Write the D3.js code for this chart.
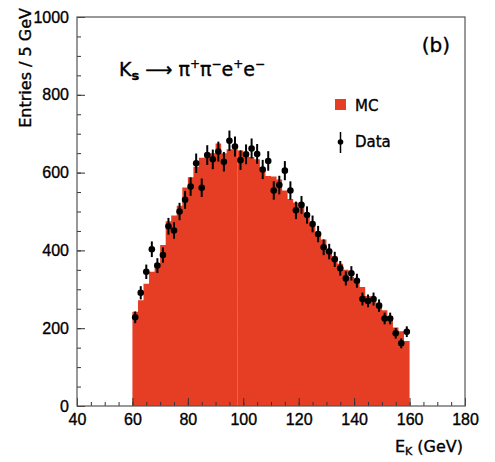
<!DOCTYPE html>
<html>
<head>
<meta charset="utf-8">
<script src="https://cdn.jsdelivr.net/npm/d3@7"></script>
<style>
  body { margin: 0; background: #fff; }
  svg { display: block; font-family: "DejaVu Sans", sans-serif; }
  svg text { stroke: #000; stroke-width: 0.35px; }
  .axis text { font-size: 16px; fill: #000; }
  .axis line { stroke: #333; }
  .axis path { display: none; }
</style>
</head>
<body>
<svg id="chart" width="495" height="462"></svg>
<script>
// bin centres (2 GeV bins, 60-160 GeV)
var binCenters = [61, 63, 65, 67, 69, 71, 73, 75, 77, 79,
                  81, 83, 85, 87, 89, 91, 93, 95, 97, 99,
                  101, 103, 105, 107, 109, 111, 113, 115, 117, 119,
                  121, 123, 125, 127, 129, 131, 133, 135, 137, 139,
                  141, 143, 145, 147, 149, 151, 153, 155, 157, 159];
var mcCounts = [242, 272, 314, 345, 367, 414, 475, 490, 515, 562,
                588, 615, 638, 641, 650, 675, 650, 660, 660, 657,
                645, 640, 634, 613, 591, 590, 582, 554, 532, 523,
                512, 485, 466, 448, 428, 404, 385, 366, 350, 332,
                318, 306, 283, 272, 263, 246, 230, 202, 192, 167];
var dataCounts = [228, 291, 345, 403, 361, 388, 462, 451, 500, 530,
                  564, 624, 561, 645, 634, 654, 628, 682, 667, 632,
                  647, 662, 648, 608, 630, 554, 568, 605, 554, 503,
                  517, 491, 468, 442, 408, 397, 377, 354, 328, 341,
                  322, 275, 270, 275, 258, 225, 225, 187, 161, 191];
var binWidth = 2;
var xTicks = [40, 60, 80, 100, 120, 140, 160, 180];
var yTicks = [0, 200, 400, 600, 800, 1000];

var svg = d3.select("#chart"),
    margin = {top: 17, right: 30, bottom: 56, left: 77},
    width = +svg.attr("width") - margin.left - margin.right,
    height = +svg.attr("height") - margin.top - margin.bottom;

var x = d3.scaleLinear().domain([40, 180]).range([0, width]),
    y = d3.scaleLinear().domain([0, 1000]).range([height, 0]);

var g = svg.append("g")
    .attr("transform", "translate(" + margin.left + "," + margin.top + ")");

var mc = binCenters.map(function(c, i) { return {c: c, v: mcCounts[i]}; });

// step outline for a run of bins
function steps(bins) {
  var pts = [];
  bins.forEach(function(d) {
    pts.push([d.c - binWidth / 2, d.v]);
    pts.push([d.c + binWidth / 2, d.v]);
  });
  return pts;
}
var area = d3.area()
    .x(function(d) { return x(d[0]); })
    .y0(y(0))
    .y1(function(d) { return y(d[1]); });

// MC histogram drawn in two pieces (seam at 98 GeV as in the original)
[mc.filter(function(d) { return d.c < 98; }), mc.filter(function(d) { return d.c > 98; })]
  .forEach(function(part) {
    g.append("path")
      .attr("d", area(steps(part)))
      .attr("fill", "#e63e25");
  });

// axes
g.append("g")
    .attr("class", "axis")
    .attr("transform", "translate(0," + height + ")")
    .call(d3.axisBottom(x).tickValues(d3.range(40, 181, 5)).tickSize(-4).tickFormat(""));
g.append("g")
    .attr("class", "axis")
    .attr("transform", "translate(0," + height + ")")
    .call(d3.axisBottom(x).tickValues(xTicks).tickSize(-8).tickPadding(8).tickFormat(d3.format("d")));
g.append("g")
    .attr("class", "axis")
    .call(d3.axisLeft(y).tickValues(d3.range(0, 1001, 50)).tickSize(-4).tickFormat(""));
g.append("g")
    .attr("class", "axis")
    .call(d3.axisLeft(y).tickValues(yTicks).tickSize(-8).tickPadding(8).tickFormat(d3.format("d")));

g.append("rect")
    .attr("width", width)
    .attr("height", height)
    .attr("fill", "none")
    .attr("stroke", "#555")
    .attr("stroke-width", 1.2);

// data points with statistical errors
var pts = g.selectAll(".pt")
    .data(binCenters.map(function(c, i) { return {c: c, v: dataCounts[i]}; }))
  .enter().append("g")
    .attr("class", "pt");
pts.append("line")
    .attr("x1", function(d) { return x(d.c); })
    .attr("x2", function(d) { return x(d.c); })
    .attr("y1", function(d) { return y(d.v - Math.sqrt(d.v)); })
    .attr("y2", function(d) { return y(d.v + Math.sqrt(d.v)); })
    .attr("stroke", "#000")
    .attr("stroke-width", 2);
pts.append("circle")
    .attr("cx", function(d) { return x(d.c); })
    .attr("cy", function(d) { return y(d.v); })
    .attr("r", 3.3)
    .attr("fill", "#000");

// axis titles
svg.append("text")
    .attr("transform", "translate(31,8) rotate(-90)")
    .attr("text-anchor", "end")
    .attr("font-size", 16)
    .text("Entries / 5 GeV");

var xt = svg.append("text")
    .attr("x", 463)
    .attr("y", 452)
    .attr("text-anchor", "end")
    .attr("font-size", 16);
xt.append("tspan").text("E");
xt.append("tspan").attr("font-size", 11).attr("dy", 3).text("K");
xt.append("tspan").attr("dy", -3).text(" (GeV)");

// panel label and decay
svg.append("text")
    .attr("x", 450)
    .attr("y", 52)
    .attr("text-anchor", "end")
    .attr("font-size", 20)
    .text("(b)");

var dk = svg.append("text")
    .attr("x", 119)
    .attr("y", 76)
    .attr("font-size", 19);
dk.append("tspan").text("K");
dk.append("tspan").attr("font-size", 13).attr("font-weight", "bold").attr("dy", 4).text("s");
dk.append("tspan").attr("dy", -4).text(" \u27F6 \u03C0");
dk.append("tspan").attr("font-size", 12).attr("dy", -8).text("+");
dk.append("tspan").attr("dy", 8).text("\u03C0");
dk.append("tspan").attr("font-size", 12).attr("dy", -8).text("\u2212");
dk.append("tspan").attr("dy", 8).text("e");
dk.append("tspan").attr("font-size", 12).attr("dy", -8).text("+");
dk.append("tspan").attr("dy", 8).text("e");
dk.append("tspan").attr("font-size", 12).attr("dy", -8).text("\u2212");

// legend
var leg = svg.append("g");
leg.append("rect")
    .attr("x", 335).attr("y", 99)
    .attr("width", 11).attr("height", 11)
    .attr("fill", "#e63e25");
leg.append("text")
    .attr("x", 355).attr("y", 111)
    .attr("font-size", 15)
    .text("MC");
leg.append("line")
    .attr("x1", 340.5).attr("x2", 340.5)
    .attr("y1", 132).attr("y2", 153)
    .attr("stroke", "#000").attr("stroke-width", 1.5);
leg.append("circle")
    .attr("cx", 340.5).attr("cy", 142)
    .attr("r", 2.8)
    .attr("fill", "#000");
leg.append("text")
    .attr("x", 355).attr("y", 147)
    .attr("font-size", 15)
    .text("Data");
</script>
</body>
</html>
